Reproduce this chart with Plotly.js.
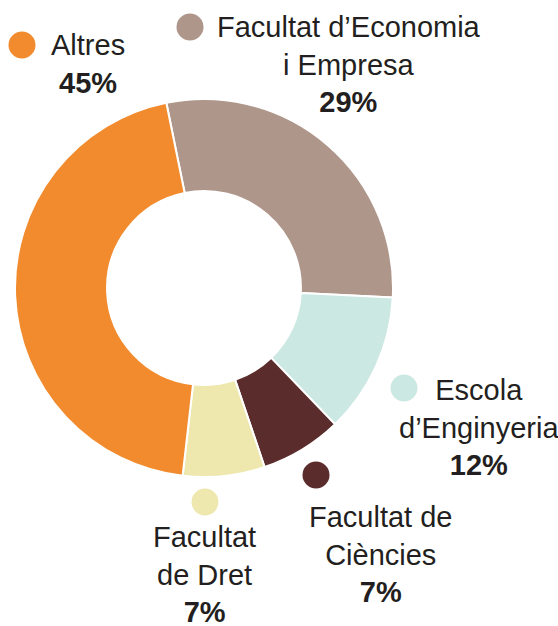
<!DOCTYPE html>
<html>
<head>
<meta charset="utf-8">
<script src="https://cdn.plot.ly/plotly-3.0.1.min.js"></script>
<style>html,body{margin:0;padding:0;background:#fff;}#chart{width:558px;height:626px;}</style>
</head>
<body>
<div id="chart"></div>
<script>
// ---- data ----
const labels = ["Facultat d\u2019Economia i Empresa", "Escola d\u2019Enginyeria", "Facultat de Ciències", "Facultat de Dret", "Altres"];
const labelLines = [["Facultat d\u2019Economia", "i Empresa"], ["Escola", "d\u2019Enginyeria"], ["Facultat de", "Ciències"], ["Facultat", "de Dret"], ["Altres"]];
const values = [29, 12, 7, 7, 45];
const colors = ["#ae968a", "#cce8e2", "#5a2c2b", "#eee8ae", "#f18b2e"];

// ---- layout (pixels) ----
const W = 558, H = 626;
const cx = 204, cy = 288, R = 189;
// label centre positions & dot positions (px)
const labelPos = [[349, 65], [479, 427], [380, 554], [204, 574], [88, 64]];
const dotPos = [[190, 27], [404, 388], [316, 475], [205, 502], [22, 45]];
const dotR = 13.5;

const px = x => x / W, py = y => 1 - y / H;

const annotations = labels.map((l, i) => ({
  xref: 'paper', yref: 'paper',
  x: px(labelPos[i][0]), y: py(labelPos[i][1]),
  xanchor: 'center', yanchor: 'middle', align: 'center',
  showarrow: false,
  text: labelLines[i].join('<br>') + '<br><b>' + values[i] + '%</b>',
  font: {family: 'Liberation Sans, Arial, sans-serif', size: 29, color: '#231f20'}
}));

const shapes = dotPos.map((d, i) => ({
  type: 'circle', xref: 'paper', yref: 'paper',
  x0: px(d[0] - dotR), x1: px(d[0] + dotR),
  y0: py(d[1] + dotR), y1: py(d[1] - dotR),
  fillcolor: colors[i], line: {width: 0}
}));

const trace = {
  type: 'pie',
  labels: labels,
  values: values,
  sort: false,
  direction: 'clockwise',
  rotation: -11.5,
  hole: 0.513,
  textinfo: 'none',
  hoverinfo: 'label+percent',
  marker: {colors: colors, line: {color: '#ffffff', width: 2}},
  domain: {x: [px(cx - R), px(cx + R)], y: [py(cy + R), py(cy - R)]}
};

Plotly.newPlot('chart', [trace], {
  width: W, height: H,
  margin: {l: 0, r: 0, t: 0, b: 0},
  showlegend: false,
  paper_bgcolor: '#ffffff',
  annotations: annotations,
  shapes: shapes
}, {displayModeBar: false, staticPlot: true});
</script>
</body>
</html>
